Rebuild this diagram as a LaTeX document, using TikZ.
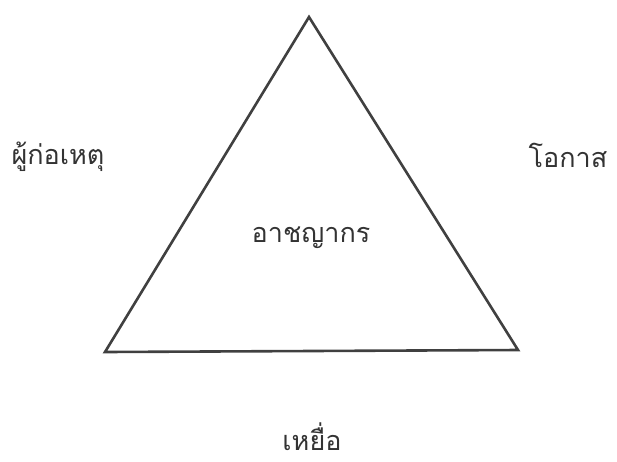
\documentclass[tikz,border=0pt]{standalone}
\usepackage{fontspec}
\newfontfamily\thaifont[Script=Thai]{Loma}
\usetikzlibrary{positioning}

\begin{document}
\begin{tikzpicture}[x=1pt, y=-1pt,
    side/.style={draw=black!75, line width=2.6pt, line join=miter},
    lbl/.style={font=\thaifont\fontsize{27}{32}\selectfont, text=black!80, inner sep=0pt},
]

% Picture frame
\useasboundingbox (0,0) rectangle (617,461);

% Corner coordinates
\coordinate (top) at (309,17);
\coordinate (left) at (105,352);
\coordinate (right) at (518,350);

% ====== TRIANGLE ======
\draw[side] (top) -- (right) -- (left) -- cycle;

% ====== LABELS ======
\node[lbl] (crime) at (311,238) {อาชญากร};
\node[lbl] (offender) at (58,157) {ผู้ก่อเหตุ};
\node[lbl] (chance) at (568,155) {โอกาส};
\node[lbl, anchor=base, text depth=0pt] (victim) at (312,450) {เหยื่อ};

\end{tikzpicture}
\end{document}
